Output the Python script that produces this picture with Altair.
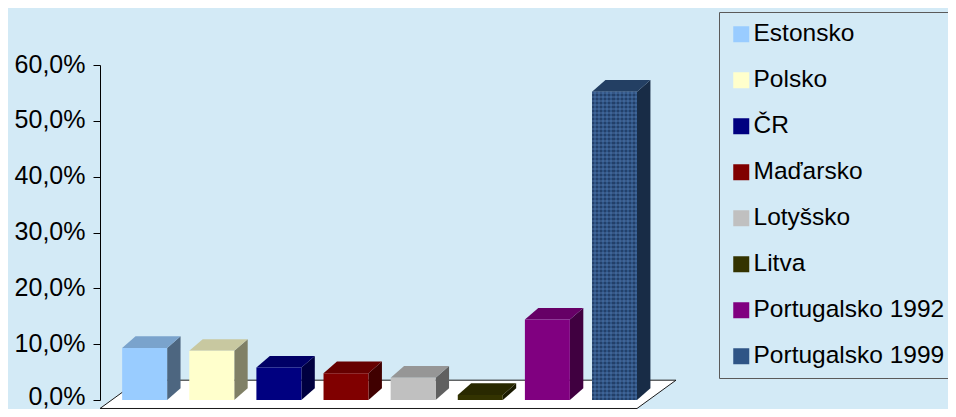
import altair as alt
import pandas as pd

# ---- data ----
countries = ["Estonsko", "Polsko", "ČR", "Maďarsko", "Lotyšsko", "Litva",
             "Portugalsko 1992", "Portugalsko 1999"]
values = [9.3, 8.8, 5.8, 4.8, 4.0, 0.9, 14.4, 55.2]
y_ticks = [0, 10, 20, 30, 40, 50, 60]

# ---- styles ----
front_colors = ["#99CCFF", "#FFFFCC", "#000080", "#800000", "#C0C0C0", "#333300", "#800080", "#2F5586"]
top_colors = ["#7AA3CC", "#C8C8A0", "#000066", "#660000", "#969696", "#292900", "#660066", "#233F63"]
side_colors = ["#4D6680", "#808066", "#000040", "#400000", "#606060", "#1A1A00", "#400040", "#182C46"]
BG = "#D3EAF6"
FONT = "Liberation Sans"
TEXTURED = "Portugalsko 1999"

# 3D geometry (category units on x, percent on y)
BAR_L, BAR_R = 0.33, 1.0
DX, DY = 0.2, 2.1
FLOOR_FRONT, FLOOR_BACK, FLOOR_DX = -1.52, 3.55, 0.581
N = len(countries)
XMAX = N + FLOOR_DX

front_rows, side_rows, top_rows = [], [], []
for i, (c, v) in enumerate(zip(countries, values)):
    front_rows.append(dict(country=c, x0=i + BAR_L, x1=i + BAR_R, v=v, base=0.0))
    side_rows += [
        dict(id=c, col=side_colors[i], x=i + BAR_R, y=0.0, y2=v),
        dict(id=c, col=side_colors[i], x=i + BAR_R + DX, y=DY, y2=v + DY),
    ]
    top_rows += [
        dict(id=c, col=top_colors[i], y=v, x=i + BAR_L, x2=i + BAR_R),
        dict(id=c, col=top_colors[i], y=v + DY, x=i + BAR_L + DX, x2=i + BAR_R + DX),
    ]
floor_rows = [
    dict(y=FLOOR_FRONT, x=0.0, x2=float(N)),
    dict(y=FLOOR_BACK, x=FLOOR_DX, x2=XMAX),
]

xs = alt.Scale(domain=[0, XMAX], nice=False, zero=False)
ys = alt.Scale(domain=[0, 60], nice=False, zero=False)
yaxis = alt.Axis(
    title=None, values=y_ticks, grid=False,
    labelExpr="replace(format(datum.value, '.1f'), '.', ',') + '%'",
    labelFont=FONT, labelFontSize=25, labelColor="black", labelPadding=8,
    labelOffset={"condition": {"test": "datum.value == 0", "value": -4}, "value": -1},
    tickSize=7, tickColor="black", domainColor="black", tickWidth=1, domainWidth=1,
)


def stripes(n, horizontal, dark):
    stops = []
    for k in range(n):
        a, b, c = k / n, (k + 0.5) / n, (k + 1) / n
        stops += [
            {"offset": a, "color": dark}, {"offset": b, "color": dark},
            {"offset": b, "color": "rgba(0,0,0,0)"}, {"offset": c, "color": "rgba(0,0,0,0)"},
        ]
    g = {"gradient": "linear", "stops": stops}
    if horizontal:
        g.update(x1=0, x2=1, y1=0, y2=0)
    else:
        g.update(x1=0, x2=0, y1=0, y2=1)
    return g


floor = alt.Chart(pd.DataFrame(floor_rows)).mark_area(
    orient="horizontal", fill="white", stroke="#1a1a1a", strokeWidth=1
).encode(
    y=alt.Y("y:Q", scale=ys, axis=yaxis),
    x=alt.X("x:Q", scale=xs, axis=None, stack=False),
    x2="x2:Q",
)

side = alt.Chart(pd.DataFrame(side_rows)).mark_area(orient="vertical").encode(
    x=alt.X("x:Q", scale=xs, axis=None),
    y=alt.Y("y:Q", scale=ys, axis=yaxis, stack=False),
    y2="y2:Q",
    fill=alt.Fill("col:N", scale=None, legend=None),
    detail="id:N",
)

top = alt.Chart(pd.DataFrame(top_rows)).mark_area(orient="horizontal").encode(
    y=alt.Y("y:Q", scale=ys, axis=yaxis),
    x=alt.X("x:Q", scale=xs, axis=None, stack=False),
    x2="x2:Q",
    fill=alt.Fill("col:N", scale=None, legend=None),
    detail="id:N",
)

front_df = pd.DataFrame(front_rows)
front = alt.Chart(front_df).mark_rect().encode(
    x=alt.X("x0:Q", scale=xs, axis=None),
    x2="x1:Q",
    y=alt.Y("v:Q", scale=ys, axis=yaxis),
    y2="base:Q",
    color=alt.Color(
        "country:N",
        scale=alt.Scale(domain=countries, range=front_colors),
        sort=countries,
        legend=alt.Legend(
            title=None, orient="none", legendX=619, legendY=-53,
            symbolType="square", symbolSize=256, symbolStrokeWidth=0, symbolOpacity=1,
            labelFont=FONT, labelFontSize=24.5, labelColor="black", labelOffset=0,
            labelLimit=400, rowPadding=21, padding=10,
            strokeColor="#5A5A5A", fillColor=BG,
        ),
    ),
)

# fine weave texture on the 1999 column (front face)
tex_enc = dict(
    x=alt.X("x0:Q", scale=xs, axis=None),
    x2="x1:Q",
    y=alt.Y("v:Q", scale=ys, axis=yaxis),
    y2="base:Q",
)
tex_v = alt.Chart(front_df).transform_filter(alt.datum.country == TEXTURED).mark_rect(
    fill=stripes(11, True, "rgba(20,38,70,0.45)")
).encode(**tex_enc)
tex_h = alt.Chart(front_df).transform_filter(alt.datum.country == TEXTURED).mark_rect(
    fill=stripes(77, False, "rgba(90,130,185,0.35)")
).encode(**tex_enc)

chart = alt.layer(floor, side, top, front, tex_v, tex_h).properties(
    width=576, height=335,
    autosize=alt.AutoSizeParams(type="none"),
    padding={"left": 92, "top": 57, "right": 272, "bottom": 9},
    background=BG,
).configure_view(stroke=None)

chart.save("out.html", embed_options={"renderer": "svg", "actions": False})
